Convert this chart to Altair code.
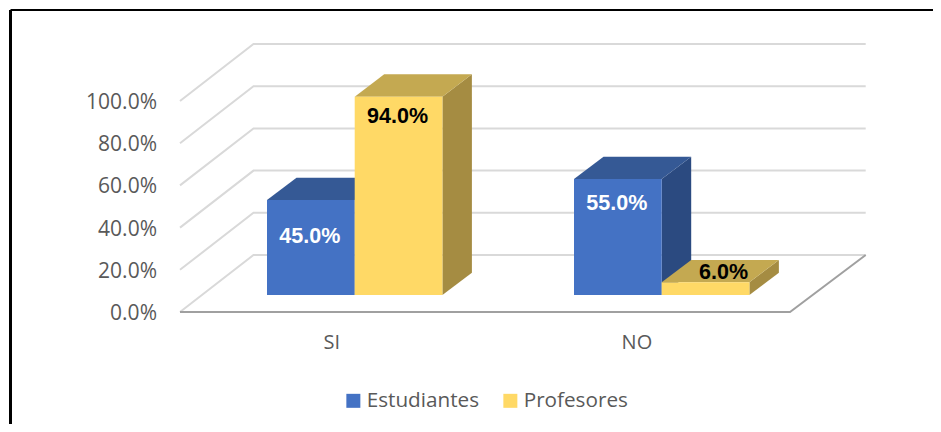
import altair as alt
import pandas as pd

categories = ["SI", "NO"]
series = ["Estudiantes", "Profesores"]
estudiantes = [45.0, 55.0]
profesores = [94.0, 6.0]
y_ticks = [0, 20, 40, 60, 80, 100]
front_colors = ["#4472C4", "#FFD966"]
top_colors = ["#355995", "#C4A951"]
side_colors = ["#2B4A80", "#A58C42"]
label_colors = ["#FFFFFF", "#000000"]
label_drop = [[17.5, 12.0], [9.5, -4.5]]  # label centre below bar top, in % units, by series then category
label_shift = [[-1.0, -1.0], [-1.0, 18.0]]  # label centre beside bar centre, in px

W, H = 925, 416
U = 305.0      # px per category
P = 2.11       # px per percentage point
X0, Y0 = 172.0, 304.0   # where category 0 / value 0 fall in the chart
x_scale = alt.Scale(domain=[-X0 / U, (W - X0) / U], range=[0, W], nice=False, zero=False)
y_scale = alt.Scale(domain=[(Y0 - H) / P, Y0 / P], range=[H, 0], nice=False, zero=False)

WALL_DX, WALL_DY = 73.5 / U, 57.0 / P
BAR_GAP, BAR_W = 87.0 / U, 87.7 / U
BAR_DX, BAR_DY = 29.5 / U, 22.3 / P
BAR_STEP = 307.0 / U
BASE = 17.0 / P

def enc():
    return dict(
        x=alt.X("x:Q", scale=x_scale, axis=None),
        y=alt.Y("y:Q", scale=y_scale, axis=None),
    )

grid_rows, side_layers, top_layers, fronts, labels = [], [], [], [], []
for t in y_ticks:
    g = f"g{t}"
    grid_rows += [
        dict(g=g, x=0, y=t),
        dict(g=g, x=WALL_DX, y=t + WALL_DY),
        dict(g=g, x=2 + WALL_DX * 1.03, y=t + WALL_DY),
    ]

def face(rows, color):
    return alt.Chart(pd.DataFrame(rows)).mark_area(color=color, opacity=1, line=False).encode(
        y2=alt.Y2("y2:Q"), **enc()
    )

for s, vals in enumerate([estudiantes, profesores]):
    for c, v in enumerate(vals):
        x0 = c * BAR_STEP + BAR_GAP + s * BAR_W
        x1 = x0 + BAR_W
        top = v + BASE
        side_layers.append(face([
            dict(x=x1, y=BASE, y2=top),
            dict(x=x1 + BAR_DX, y=BASE + BAR_DY, y2=top + BAR_DY),
        ], side_colors[s]))
        top_layers.append(face([
            dict(x=x0, y=top, y2=top),
            dict(x=x0 + BAR_DX, y=top + BAR_DY, y2=top),
            dict(x=x1, y=top + BAR_DY, y2=top),
            dict(x=x1 + BAR_DX, y=top + BAR_DY, y2=top + BAR_DY),
        ], top_colors[s]))
        fronts.append(dict(serie=series[s], x=x0, x2=x1, y=BASE, y2=top))
        labels.append(dict(x=(x0 + x1) / 2 + label_shift[s][c] / U, y=top - label_drop[s][c],
                           t=f"{v:.1f}%", c=label_colors[s]))

grid = alt.Chart(pd.DataFrame(grid_rows)).mark_line(color="#D9D9D9", strokeWidth=2).encode(
    detail="g:N", **enc())

floor_rows = [
    dict(g="f", x=0, y=0),
    dict(g="f", x=2, y=0),
    dict(g="f", x=2 + WALL_DX * 1.03, y=WALL_DY),
]
floor = alt.Chart(pd.DataFrame(floor_rows)).mark_line(color="#A0A0A0", strokeWidth=2).encode(
    detail="g:N", **enc())

front = alt.Chart(pd.DataFrame(fronts)).mark_rect().encode(
    x=alt.X("x:Q", scale=x_scale, axis=None),
    x2="x2:Q",
    y=alt.Y("y:Q", scale=y_scale, axis=None),
    y2="y2:Q",
    color=alt.Color(
        "serie:N",
        scale=alt.Scale(domain=series, range=front_colors),
        legend=alt.Legend(
            orient="none", legendX=335, legendY=382, direction="horizontal", columns=2,
            title=None, symbolType="square", symbolSize=196, symbolStrokeWidth=0,
            labelFont="Open Sans", labelFontSize=20.7, labelColor="#595959",
            labelOffset=3, columnPadding=20, padding=0,
        ),
    ),
)

bar_labels = alt.Chart(pd.DataFrame(labels)).mark_text(
    font="Liberation Sans", fontWeight="bold", fontSize=21.5, baseline="middle", align="center"
).encode(text="t:N", color=alt.Color("c:N", scale=None), **enc())

y_labels = alt.Chart(pd.DataFrame(dict(
    y=y_ticks, x=[-23.0 / U] * len(y_ticks), t=[f"{t:.1f}%" for t in y_ticks]
))).mark_text(font="Open Sans", fontSize=21, dy=2, color="#595959", align="right", baseline="middle").encode(
    text="t:N", **enc())

cat_labels = alt.Chart(pd.DataFrame(dict(
    x=[i + 0.498 for i in range(len(categories))], y=[-31.0 / P] * len(categories), t=categories
))).mark_text(font="Open Sans", fontSize=20, color="#595959", align="center", baseline="middle").encode(
    text="t:N", **enc())

frame_x = (2.5 - X0) / U
frame_y = (Y0 - 2.0) / P
frame_left = alt.Chart(pd.DataFrame(dict(x=[frame_x], y=[frame_y], y2=[(Y0 - H) / P]))).mark_rule(
    color="#000000", strokeWidth=3).encode(y2="y2:Q", **enc())
frame_top = alt.Chart(pd.DataFrame(dict(x=[frame_x], x2=[(W - X0) / U], y=[frame_y]))).mark_rule(
    color="#000000", strokeWidth=2).encode(x2="x2:Q", **enc())

chart = alt.layer(
    grid, floor, frame_left, frame_top, *side_layers, *top_layers, front, bar_labels, y_labels, cat_labels
).properties(
    width=W, height=H, padding=0, autosize=alt.AutoSizeParams(type="none"),
    background="#FFFFFF",
).configure_view(stroke=None)

chart.save("out.html", embed_options={"renderer": "svg", "actions": False})
